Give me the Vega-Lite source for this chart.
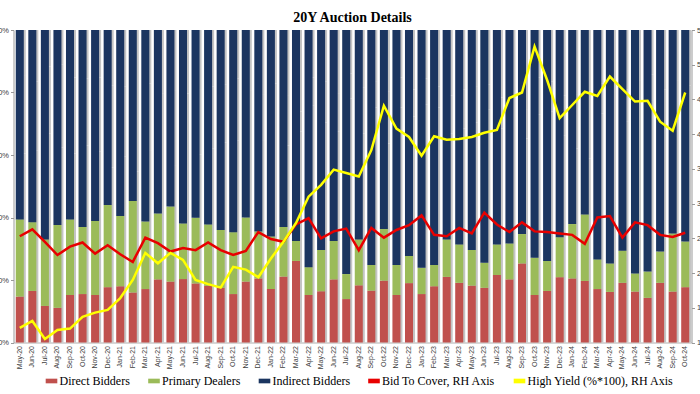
{
  "$schema": "https://vega.github.io/schema/vega-lite/v6.json",
  "width": 678,
  "height": 312.5,
  "autosize": {"type": "none"},
  "padding": {"left": 13.5, "top": 30, "right": 8.5, "bottom": 51.5},
  "background": "white",
  "title": {"text": "20Y Auction Details", "font": "Liberation Serif", "fontSize": 14, "fontWeight": "bold", "color": "#000000", "anchor": "middle", "frame": "group", "baseline": "alphabetic", "offset": -9.5},
  "config": {
    "view": {"stroke": null},
    "axis": {"labelFont": "Liberation Sans", "labelFontSize": 7.5, "labelColor": "#404040", "domainColor": "#9a9a9a", "tickColor": "#9a9a9a", "grid": false, "title": null}
  },
  "data": {"values": [
    {"m": "May-20", "a_direct": 14.7, "b_primary": 24.7, "c_indirect": 60.6, "d_btc": 2.53, "e_hy": 1.21},
    {"m": "Jun-20", "a_direct": 16.5, "b_primary": 22.0, "c_indirect": 61.5, "d_btc": 2.63, "e_hy": 1.31},
    {"m": "Jul-20", "a_direct": 11.7, "b_primary": 21.3, "c_indirect": 67.0, "d_btc": 2.45, "e_hy": 1.05},
    {"m": "Aug-20", "a_direct": 11.1, "b_primary": 26.5, "c_indirect": 62.4, "d_btc": 2.26, "e_hy": 1.18},
    {"m": "Sep-20", "a_direct": 15.2, "b_primary": 24.2, "c_indirect": 60.6, "d_btc": 2.38, "e_hy": 1.20},
    {"m": "Oct-20", "a_direct": 15.5, "b_primary": 21.5, "c_indirect": 63.0, "d_btc": 2.44, "e_hy": 1.37},
    {"m": "Nov-20", "a_direct": 15.2, "b_primary": 23.7, "c_indirect": 61.1, "d_btc": 2.28, "e_hy": 1.43},
    {"m": "Dec-20", "a_direct": 17.7, "b_primary": 26.3, "c_indirect": 56.0, "d_btc": 2.40, "e_hy": 1.47},
    {"m": "Jan-21", "a_direct": 18.0, "b_primary": 22.5, "c_indirect": 59.5, "d_btc": 2.27, "e_hy": 1.64},
    {"m": "Feb-21", "a_direct": 16.0, "b_primary": 29.3, "c_indirect": 54.7, "d_btc": 2.16, "e_hy": 1.90},
    {"m": "Mar-21", "a_direct": 17.1, "b_primary": 21.6, "c_indirect": 61.3, "d_btc": 2.51, "e_hy": 2.29},
    {"m": "Apr-21", "a_direct": 20.2, "b_primary": 21.1, "c_indirect": 58.7, "d_btc": 2.43, "e_hy": 2.14},
    {"m": "May-21", "a_direct": 19.5, "b_primary": 24.0, "c_indirect": 56.5, "d_btc": 2.31, "e_hy": 2.29},
    {"m": "Jun-21", "a_direct": 20.3, "b_primary": 17.8, "c_indirect": 61.9, "d_btc": 2.36, "e_hy": 2.19},
    {"m": "Jul-21", "a_direct": 18.9, "b_primary": 21.0, "c_indirect": 60.1, "d_btc": 2.33, "e_hy": 1.90},
    {"m": "Aug-21", "a_direct": 18.1, "b_primary": 19.7, "c_indirect": 62.2, "d_btc": 2.44, "e_hy": 1.84},
    {"m": "Sep-21", "a_direct": 17.5, "b_primary": 18.5, "c_indirect": 64.0, "d_btc": 2.33, "e_hy": 1.79},
    {"m": "Oct-21", "a_direct": 15.5, "b_primary": 19.8, "c_indirect": 64.7, "d_btc": 2.26, "e_hy": 2.09},
    {"m": "Nov-21", "a_direct": 19.5, "b_primary": 20.5, "c_indirect": 60.0, "d_btc": 2.32, "e_hy": 2.05},
    {"m": "Dec-21", "a_direct": 20.5, "b_primary": 15.0, "c_indirect": 64.5, "d_btc": 2.59, "e_hy": 1.94},
    {"m": "Jan-22", "a_direct": 17.1, "b_primary": 16.8, "c_indirect": 66.1, "d_btc": 2.49, "e_hy": 2.21},
    {"m": "Feb-22", "a_direct": 21.1, "b_primary": 15.9, "c_indirect": 63.0, "d_btc": 2.45, "e_hy": 2.45},
    {"m": "Mar-22", "a_direct": 26.1, "b_primary": 6.4, "c_indirect": 67.5, "d_btc": 2.70, "e_hy": 2.72},
    {"m": "Apr-22", "a_direct": 15.2, "b_primary": 8.9, "c_indirect": 75.9, "d_btc": 2.79, "e_hy": 3.10},
    {"m": "May-22", "a_direct": 16.4, "b_primary": 13.2, "c_indirect": 70.4, "d_btc": 2.50, "e_hy": 3.27},
    {"m": "Jun-22", "a_direct": 20.2, "b_primary": 12.3, "c_indirect": 67.5, "d_btc": 2.60, "e_hy": 3.49},
    {"m": "Jul-22", "a_direct": 13.9, "b_primary": 8.0, "c_indirect": 78.1, "d_btc": 2.64, "e_hy": 3.44},
    {"m": "Aug-22", "a_direct": 18.3, "b_primary": 14.7, "c_indirect": 67.0, "d_btc": 2.33, "e_hy": 3.39},
    {"m": "Sep-22", "a_direct": 16.6, "b_primary": 8.2, "c_indirect": 75.2, "d_btc": 2.65, "e_hy": 3.77},
    {"m": "Oct-22", "a_direct": 19.8, "b_primary": 16.5, "c_indirect": 63.7, "d_btc": 2.51, "e_hy": 4.41},
    {"m": "Nov-22", "a_direct": 15.2, "b_primary": 9.6, "c_indirect": 75.2, "d_btc": 2.62, "e_hy": 4.08},
    {"m": "Dec-22", "a_direct": 19.0, "b_primary": 8.7, "c_indirect": 72.3, "d_btc": 2.69, "e_hy": 3.96},
    {"m": "Jan-23", "a_direct": 15.5, "b_primary": 8.4, "c_indirect": 76.1, "d_btc": 2.83, "e_hy": 3.69},
    {"m": "Feb-23", "a_direct": 18.0, "b_primary": 6.8, "c_indirect": 75.2, "d_btc": 2.55, "e_hy": 3.97},
    {"m": "Mar-23", "a_direct": 21.0, "b_primary": 12.0, "c_indirect": 67.0, "d_btc": 2.53, "e_hy": 3.92},
    {"m": "Apr-23", "a_direct": 19.1, "b_primary": 12.3, "c_indirect": 68.6, "d_btc": 2.65, "e_hy": 3.93},
    {"m": "May-23", "a_direct": 18.2, "b_primary": 11.4, "c_indirect": 70.4, "d_btc": 2.57, "e_hy": 3.96},
    {"m": "Jun-23", "a_direct": 17.5, "b_primary": 8.0, "c_indirect": 74.5, "d_btc": 2.87, "e_hy": 4.02},
    {"m": "Jul-23", "a_direct": 21.6, "b_primary": 9.8, "c_indirect": 68.6, "d_btc": 2.70, "e_hy": 4.06},
    {"m": "Aug-23", "a_direct": 20.2, "b_primary": 11.5, "c_indirect": 68.3, "d_btc": 2.59, "e_hy": 4.52},
    {"m": "Sep-23", "a_direct": 25.3, "b_primary": 9.4, "c_indirect": 65.3, "d_btc": 2.73, "e_hy": 4.60},
    {"m": "Oct-23", "a_direct": 15.2, "b_primary": 11.9, "c_indirect": 72.9, "d_btc": 2.60, "e_hy": 5.26},
    {"m": "Nov-23", "a_direct": 16.5, "b_primary": 9.6, "c_indirect": 73.9, "d_btc": 2.59, "e_hy": 4.78},
    {"m": "Dec-23", "a_direct": 20.9, "b_primary": 12.8, "c_indirect": 66.3, "d_btc": 2.57, "e_hy": 4.23},
    {"m": "Jan-24", "a_direct": 20.5, "b_primary": 17.4, "c_indirect": 62.1, "d_btc": 2.55, "e_hy": 4.42},
    {"m": "Feb-24", "a_direct": 19.7, "b_primary": 21.3, "c_indirect": 59.0, "d_btc": 2.42, "e_hy": 4.61},
    {"m": "Mar-24", "a_direct": 17.1, "b_primary": 9.5, "c_indirect": 73.4, "d_btc": 2.80, "e_hy": 4.55},
    {"m": "Apr-24", "a_direct": 16.2, "b_primary": 9.1, "c_indirect": 74.7, "d_btc": 2.82, "e_hy": 4.83},
    {"m": "May-24", "a_direct": 19.1, "b_primary": 10.3, "c_indirect": 70.6, "d_btc": 2.51, "e_hy": 4.65},
    {"m": "Jun-24", "a_direct": 16.3, "b_primary": 5.8, "c_indirect": 77.9, "d_btc": 2.73, "e_hy": 4.47},
    {"m": "Jul-24", "a_direct": 14.3, "b_primary": 8.4, "c_indirect": 77.3, "d_btc": 2.69, "e_hy": 4.48},
    {"m": "Aug-24", "a_direct": 19.1, "b_primary": 10.0, "c_indirect": 70.9, "d_btc": 2.55, "e_hy": 4.18},
    {"m": "Sep-24", "a_direct": 16.3, "b_primary": 18.6, "c_indirect": 65.1, "d_btc": 2.52, "e_hy": 4.05},
    {"m": "Oct-24", "a_direct": 17.7, "b_primary": 14.6, "c_indirect": 67.7, "d_btc": 2.58, "e_hy": 4.60}
  ]},
  "encoding": {
    "x": {"field": "m", "type": "nominal", "sort": null,
      "scale": {"paddingInner": 0.36, "paddingOuter": 0.18},
      "axis": {"labelAngle": -90, "labelFontSize": 7, "ticks": false, "labelPadding": 3, "domainColor": "#b0b0b0"}}
  },
  "layer": [
    {
      "transform": [{"fold": ["a_direct", "b_primary", "c_indirect"], "as": ["series", "pct"]}],
      "layer": [
        {
          "mark": {"type": "bar", "color": "#c4c4c4", "xOffset": 2},
          "encoding": {
            "y": {"field": "pct", "type": "quantitative", "stack": "zero", "scale": {"domain": [0, 100]}},
            "detail": {"field": "series", "type": "nominal"}
          }
        },
        {
          "mark": {"type": "bar"},
          "encoding": {
            "y": {"field": "pct", "type": "quantitative", "stack": "zero", "scale": {"domain": [0, 100]},
              "axis": {"values": [0, 10, 20, 30, 40, 50, 60, 70, 80, 90, 100], "labelExpr": "datum.value + '%'", "tickSize": 3, "labelPadding": 2}},
            "color": {"field": "series", "type": "nominal",
              "scale": {"domain": ["a_direct", "b_primary", "c_indirect", "d_btc", "e_hy"], "range": ["#C0504D", "#9BBB59", "#1B3560", "#E80000", "#FFFF00"]},
              "legend": {"orient": "none", "legendX": 32, "legendY": 345, "direction": "horizontal", "columns": 5, "columnPadding": 17.5, "title": null,
                "labelFont": "Liberation Serif", "labelFontSize": 12, "labelColor": "#000000", "labelOffset": 2,
                "symbolType": "M-1,-0.4H1V0.4H-1Z", "symbolSize": 135, "symbolStrokeWidth": 0,
                "labelExpr": "datum.value == 'a_direct' ? 'Direct Bidders' : datum.value == 'b_primary' ? 'Primary Dealers' : datum.value == 'c_indirect' ? 'Indirect Bidders' : datum.value == 'd_btc' ? 'Bid To Cover, RH Axis' : 'High Yield (%*100), RH Axis'"}},
            "order": {"field": "series", "sort": "ascending"}
          }
        }
      ]
    },
    {
      "transform": [{"fold": ["d_btc", "e_hy"], "as": ["series", "val"]}],
      "mark": {"type": "line", "strokeWidth": 2.5},
      "encoding": {
        "y": {"field": "val", "type": "quantitative", "scale": {"domain": [1, 5.5], "zero": false},
          "axis": {"orient": "right", "values": [1, 1.5, 2, 2.5, 3, 3.5, 4, 4.5, 5, 5.5], "format": ".1f", "tickSize": 3, "labelPadding": 2}},
        "color": {"field": "series", "type": "nominal"}
      }
    }
  ],
  "resolve": {"scale": {"y": "independent"}}
}
